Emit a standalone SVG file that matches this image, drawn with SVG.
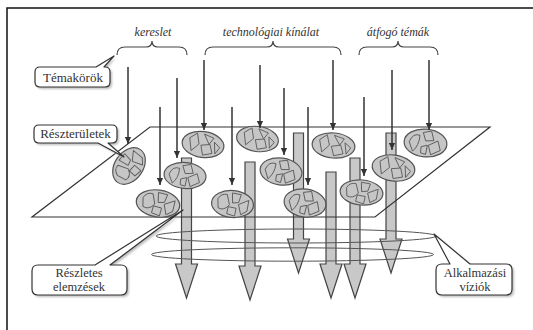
<svg xmlns="http://www.w3.org/2000/svg" xmlns:xlink="http://www.w3.org/1999/xlink" width="533" height="330" viewBox="0 0 533 330">
<style>
.lbl{font-family:"Liberation Serif",serif;font-style:italic;font-size:12px;fill:#333}
.ct{font-family:"Liberation Serif",serif;font-size:13px;fill:#333;text-anchor:middle}
.ct2{font-family:"Liberation Serif",serif;font-size:12.5px;fill:#333;text-anchor:middle}
.brace{fill:none;stroke:#444;stroke-width:1.2}
.thin{stroke:#333;stroke-width:1.5;fill:none;marker-end:url(#ah)}
.thick{fill:#c8c8c8;stroke:#444;stroke-width:1.2;stroke-linejoin:miter}
.cell{fill:#c6c6c6;stroke:#555;stroke-width:1.2}
.inner{fill:none;stroke:#5a5a5a;stroke-width:0.9;stroke-linejoin:round}
.plane{fill:none;stroke:#333;stroke-width:1.2}
.ring{fill:none;stroke:#555;stroke-width:1}
.co{fill:#fff;stroke:#333;stroke-width:1.2;stroke-linejoin:round}
.sh{fill:#bbb;filter:url(#blur)}
</style>
<defs>
<marker id="ah" viewBox="0 0 8 8" refX="8" refY="4" markerWidth="7" markerHeight="7" markerUnits="userSpaceOnUse" orient="auto"><path d="M0,0.5 L8,4 L0,7.5 Z" fill="#333"/></marker>
<filter id="blur" x="-20%" y="-20%" width="140%" height="140%"><feGaussianBlur stdDeviation="1.2"/></filter>
<g id="cA"><ellipse class="cell" rx="21" ry="13.5"/><path class="inner" d="M-15,-4 Q-12,-10 -6,-9 L-3,1 Q-8,8 -14,5 Z M-1,-11 L8,-10 L6,-2 L0,-1 Z M6,0 L16,-5 L15,6 L9,10 Z M-4,3 L4,4 L3,12 L-5,10 Z"/></g>
<g id="cB"><ellipse class="cell" rx="21" ry="13.5"/><path class="inner" d="M-14,-5 L-7,-11 L-4,0 L-11,8 Z M0,-11 L10,-8 L6,-1 Z M-2,1 L7,-1 L10,8 L1,11 Z M11,-4 L17,1 L13,8 Z"/></g>
<g id="cC"><ellipse class="cell" rx="21" ry="13.5"/><path class="inner" d="M-16,0 Q-13,-9 -6,-7 Q-6,3 -12,9 Z M-3,-10 L5,-12 L8,-3 L0,-2 Z M3,2 L12,-3 L15,6 L6,11 Z M-4,4 L2,2 L1,11 L-4,10 Z"/></g>
</defs>
<rect width="533" height="330" fill="#fff"/>
<path d="M7,330 V8 H533" fill="none" stroke="#111" stroke-width="1.5"/>

<g id="headers">
<text class="lbl" x="153" y="36" text-anchor="middle">kereslet</text>
<text class="lbl" x="271" y="36" text-anchor="middle">technológiai kínálat</text>
<text class="lbl" x="398" y="36" text-anchor="middle">átfogó témák</text>
<path class="brace" d="M117,55 Q117,47 125,47 L146,47 Q152,47 152,41 Q152,47 158,47 L179,47 Q187,47 187,55"/>
<path class="brace" d="M205,55 Q205,47 213,47 L267,47 Q273,47 273,41 Q273,47 279,47 L333,47 Q341,47 341,55"/>
<path class="brace" d="M359,55 Q359,47 367,47 L392,47 Q398,47 398,41 Q398,47 404,47 L430,47 Q438,47 438,55"/>
</g>

<g id="thick-arrows">
<path class="thick" d="M181.5,158 H191.5 V264 H197.5 L186.5,298 L175.5,264 H181.5 Z"/>
<path class="thick" d="M245,162 H255 V266 H261 L250,300 L239,266 H245 Z"/>
<path class="thick" d="M293.5,133 H303.5 V239 H309.5 L298.5,273 L287.5,239 H293.5 Z"/>
<path class="thick" d="M326,172 H336 V264 H342 L331,298 L320,264 H326 Z"/>
<path class="thick" d="M350,158 H360 V264 H366 L355,298 L344,264 H350 Z"/>
<path class="thick" d="M386,133 H396 V239 H402 L391,273 L380,239 H386 Z"/>
</g>

<g id="plane"><path class="plane" d="M150,127 L490,127 L375,217 L32,217 Z"/></g>

<g id="rings">
<ellipse class="ring" cx="296" cy="236" rx="140" ry="7"/>
<ellipse class="ring" cx="292.5" cy="254.5" rx="141" ry="6.7"/>
</g>

<g id="subareas">
<g id="Ea"><use xlink:href="#cA" href="#cA" transform="translate(129,166) rotate(-55) scale(0.95,1.05)"/></g>
<g id="Eb"><use xlink:href="#cB" href="#cB" transform="translate(203,144.5) rotate(8) scale(1,0.96)"/></g>
<g id="Ec"><use xlink:href="#cC" href="#cC" transform="translate(185,175.5) rotate(5) scale(1,0.96)"/></g>
<g id="Ed"><use xlink:href="#cA" href="#cA" transform="translate(158,203.5) rotate(8) scale(1.04,1)"/></g>
<g id="Ee"><use xlink:href="#cB" href="#cB" transform="translate(257.5,139) rotate(8) scale(1,0.93)"/></g>
<g id="Ef"><use xlink:href="#cC" href="#cC" transform="translate(281,171.5) rotate(8)"/></g>
<g id="Eg"><use xlink:href="#cA" href="#cA" transform="translate(232.5,204) rotate(5)"/></g>
<g id="Eh"><use xlink:href="#cB" href="#cB" transform="translate(333.5,145.5) rotate(5) scale(1.02,0.93)"/></g>
<g id="Ei"><use xlink:href="#cC" href="#cC" transform="translate(305,203) rotate(8) scale(1,1.03)"/></g>
<g id="Ej"><use xlink:href="#cA" href="#cA" transform="translate(361.5,192.5) rotate(5) scale(1.02,0.93)"/></g>
<g id="Ek"><use xlink:href="#cB" href="#cB" transform="translate(393.5,168) rotate(8) scale(1.02,0.96)"/></g>
<g id="El"><use xlink:href="#cC" href="#cC" transform="translate(425.5,143) rotate(5) scale(1.02,1.03)"/></g>
</g>

<g id="connectors">
<line class="thin" x1="128" y1="67" x2="128" y2="144"/>
<line class="thin" x1="160" y1="107" x2="160" y2="185"/>
<line class="thin" x1="177" y1="78" x2="177" y2="158"/>
<line class="thin" x1="204" y1="60" x2="204" y2="130"/>
<line class="thin" x1="232" y1="107" x2="232" y2="185"/>
<line class="thin" x1="260" y1="65" x2="260" y2="128"/>
<line class="thin" x1="284" y1="88" x2="284" y2="155"/>
<line class="thin" x1="308" y1="107" x2="308" y2="185"/>
<line class="thin" x1="333" y1="60" x2="333" y2="130"/>
<line class="thin" x1="364" y1="97" x2="364" y2="176"/>
<line class="thin" x1="392" y1="70" x2="392" y2="150"/>
<line class="thin" x1="429" y1="60" x2="429" y2="130"/>
</g>

<g id="callout-temakorok">
<path class="sh" transform="translate(2,2)" d="M40,67 L96,67 L114,56 L104,67 L105,67 Q110,67 110,72 L110,82 Q110,87 105,87 L40,87 Q35,87 35,82 L35,72 Q35,67 40,67 Z"/>
<path class="co" d="M40,67 L96,67 L114,56 L104,67 L105,67 Q110,67 110,72 L110,82 Q110,87 105,87 L40,87 Q35,87 35,82 L35,72 Q35,67 40,67 Z"/>
<text class="ct" x="73" y="81.5">Témakörök</text>
</g>
<g id="callout-reszteruletek">
<path class="sh" transform="translate(2,2)" d="M39,125 L112,125 Q117,125 117,130 L117,138 Q117,143 112,143 L108,143 L124,157 L98,143 L39,143 Q34,143 34,138 L34,130 Q34,125 39,125 Z"/>
<path class="co" d="M39,125 L112,125 Q117,125 117,130 L117,138 Q117,143 112,143 L108,143 L124,157 L98,143 L39,143 Q34,143 34,138 L34,130 Q34,125 39,125 Z"/>
<text class="ct" x="75.5" y="138">Részterületek</text>
</g>
<g id="callout-reszletes">
<path class="sh" transform="translate(2,2)" d="M38,265 L95,265 L183,210 L110,265 L121,265 Q127,265 127,271 L127,289 Q127,295 121,295 L38,295 Q32,295 32,289 L32,271 Q32,265 38,265 Z"/>
<path class="co" d="M38,265 L95,265 L183,210 L110,265 L121,265 Q127,265 127,271 L127,289 Q127,295 121,295 L38,295 Q32,295 32,289 L32,271 Q32,265 38,265 Z"/>
<text class="ct2" x="79" y="276.5">Részletes</text>
<text class="ct2" x="79" y="291">elemzések</text>
</g>
<g id="callout-alkalmazasi">
<path class="sh" transform="translate(2,2)" d="M442,264 L450,264 L434,234 L470,264 L506,264 Q512,264 512,270 L512,289 Q512,295 506,295 L442,295 Q436,295 436,289 L436,270 Q436,264 442,264 Z"/>
<path class="co" d="M442,264 L450,264 L434,234 L470,264 L506,264 Q512,264 512,270 L512,289 Q512,295 506,295 L442,295 Q436,295 436,289 L436,270 Q436,264 442,264 Z"/>
<text class="ct2" x="475" y="276.5">Alkalmazási</text>
<text class="ct2" x="475" y="291">víziók</text>
</g>
</svg>
